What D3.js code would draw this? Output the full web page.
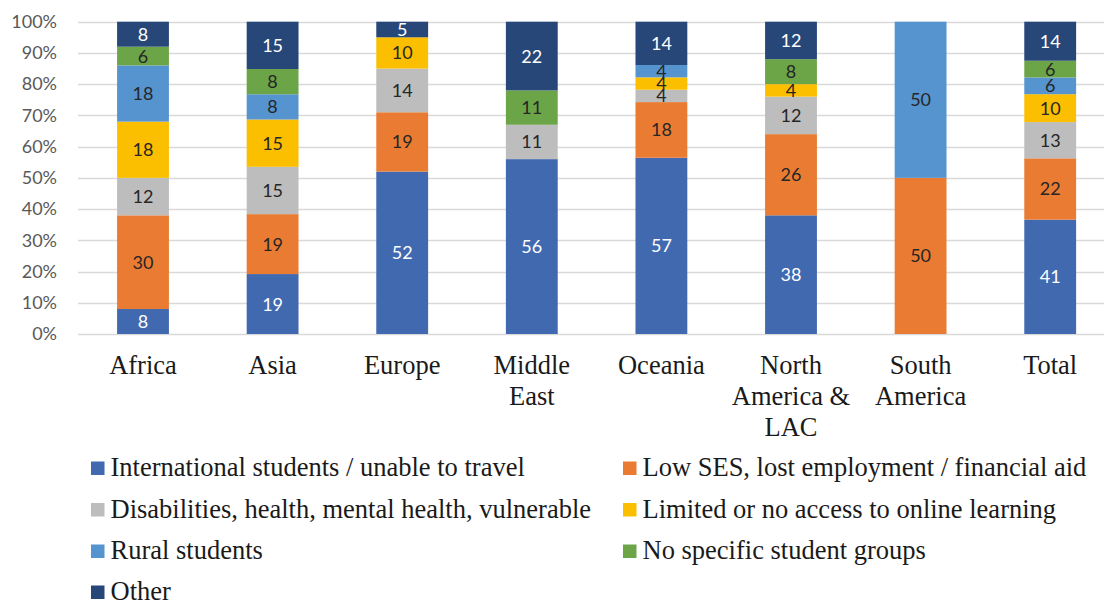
<!DOCTYPE html>
<html>
<head>
<meta charset="utf-8">
<script src="https://cdn.jsdelivr.net/npm/d3@7"></script>
<style>
  html, body { margin: 0; padding: 0; background: #fff; }
  svg { display: block; }
</style>
</head>
<body>
<svg id="chart" width="1104" height="602"></svg>
<script>
// ---- Data ----
const categories = ["Africa", "Asia", "Europe", "Middle East", "Oceania", "North America & LAC", "South America", "Total"];
const categoryLines = [["Africa"], ["Asia"], ["Europe"], ["Middle", "East"], ["Oceania"], ["North", "America &", "LAC"], ["South", "America"], ["Total"]];
const seriesNames = [
  "International students / unable to travel",
  "Low SES, lost employment / financial aid",
  "Disabilities, health, mental health, vulnerable",
  "Limited or no access to online learning",
  "Rural students",
  "No specific student groups",
  "Other"
];
const seriesColors = ["#4169B0", "#EA7B33", "#BDBDBD", "#FCBF00", "#5694D0", "#6BA547", "#284779"];
const labelColors = ["#ffffff", "#262626", "#262626", "#262626", "#262626", "#262626", "#ffffff"];
// values per series, in category order
const intlStudents   = [8, 19, 52, 56, 57, 38, 0, 41];
const lowSES         = [30, 19, 19, 0, 18, 26, 50, 22];
const disabilities   = [12, 15, 14, 11, 4, 12, 0, 13];
const limitedAccess  = [18, 15, 10, 0, 4, 4, 0, 10];
const rural          = [18, 8, 0, 0, 4, 0, 50, 6];
const noSpecific     = [6, 8, 0, 11, 0, 8, 0, 6];
const other          = [8, 15, 5, 22, 14, 12, 0, 14];
const seriesValues = [intlStudents, lowSES, disabilities, limitedAccess, rural, noSpecific, other];
const yTicks = [0, 0.1, 0.2, 0.3, 0.4, 0.5, 0.6, 0.7, 0.8, 0.9, 1.0];

// ---- Build table ----
const keys = seriesNames;
const table = categories.map((c, i) => {
  const row = { category: c };
  keys.forEach((k, j) => row[k] = seriesValues[j][i]);
  return row;
});
const stacked = d3.stack().keys(keys).offset(d3.stackOffsetExpand)(table);

// ---- Layout ----
const svg = d3.select("#chart");
const plot = { left: 78.2, right: 1115, top: 21.7, bottom: 334 };

const x = d3.scaleBand().domain(categories).range([plot.left, plot.right])
  .paddingInner(0.6).paddingOuter(0.3);
const y = d3.scaleLinear().domain([0, 1]).range([plot.bottom, plot.top]);

// gridlines
svg.append("g").selectAll("line").data(yTicks).join("line")
  .attr("x1", 78).attr("x2", 1104)
  .attr("y1", d => Math.round(y(d)) + 0.5).attr("y2", d => Math.round(y(d)) + 0.5)
  .attr("stroke", "#D9D9D9").attr("stroke-width", 1.3);

// y axis labels
const yAxis = d3.axisLeft(y).tickValues(yTicks).tickFormat(d3.format(".0%")).tickSize(0).tickPadding(0);
const yg = svg.append("g").attr("transform", "translate(57,0)").call(yAxis);
yg.select(".domain").remove();
yg.selectAll("text")
  .attr("font-family", "Lato, 'Open Sans', sans-serif")
  .attr("font-size", 18)
  .attr("fill", "#595959");

// bars
const layers = svg.append("g").selectAll("g").data(stacked).join("g")
  .attr("fill", (d, i) => seriesColors[i]);
layers.selectAll("rect").data(d => d.map(p => ({ p, cat: p.data.category })))
  .join("rect")
  .attr("x", d => x(d.cat))
  .attr("width", x.bandwidth())
  .attr("y", d => y(d.p[1]))
  .attr("height", d => Math.max(0, y(d.p[0]) - y(d.p[1])));

// value labels
const labelsG = svg.append("g");
stacked.forEach((layer, si) => {
  layer.forEach((p, ci) => {
    const v = seriesValues[si][ci];
    if (!v) return;
    labelsG.append("text")
      .attr("x", x(categories[ci]) + x.bandwidth() / 2)
      .attr("y", (y(p[0]) + y(p[1])) / 2)
      .attr("dy", "0.36em")
      .attr("text-anchor", "middle")
      .attr("font-family", "Lato, 'Open Sans', sans-serif")
      .attr("font-size", 18)
      .attr("fill", labelColors[si])
      .text(v);
  });
});

// category labels
const catG = svg.append("g");
categories.forEach((c, i) => {
  const t = catG.append("text")
    .attr("x", x(c) + x.bandwidth() / 2)
    .attr("y", 374)
    .attr("text-anchor", "middle")
    .attr("font-family", "'Liberation Serif', 'Times New Roman', serif")
    .attr("font-size", 26.5)
    .attr("fill", "#1a1a1a");
  categoryLines[i].forEach((line, li) => {
    t.append("tspan").attr("x", x(c) + x.bandwidth() / 2).attr("y", 374 + li * 31).text(line);
  });
});

// legend
const legendPos = [[91, 468], [623, 468], [91, 509.5], [623, 509.5], [91, 551], [623, 551], [91, 592]];
const lg = svg.append("g");
seriesNames.forEach((name, i) => {
  const [lx, ly] = legendPos[i];
  lg.append("rect").attr("x", lx).attr("y", ly - 6.5).attr("width", 13.5).attr("height", 13.5)
    .attr("fill", seriesColors[i]);
  lg.append("text").attr("x", lx + 19.5).attr("y", ly + 8)
    .attr("font-family", "'Liberation Serif', 'Times New Roman', serif")
    .attr("font-size", 26.5)
    .attr("fill", "#1a1a1a")
    .text(name);
});
</script>
</body>
</html>
